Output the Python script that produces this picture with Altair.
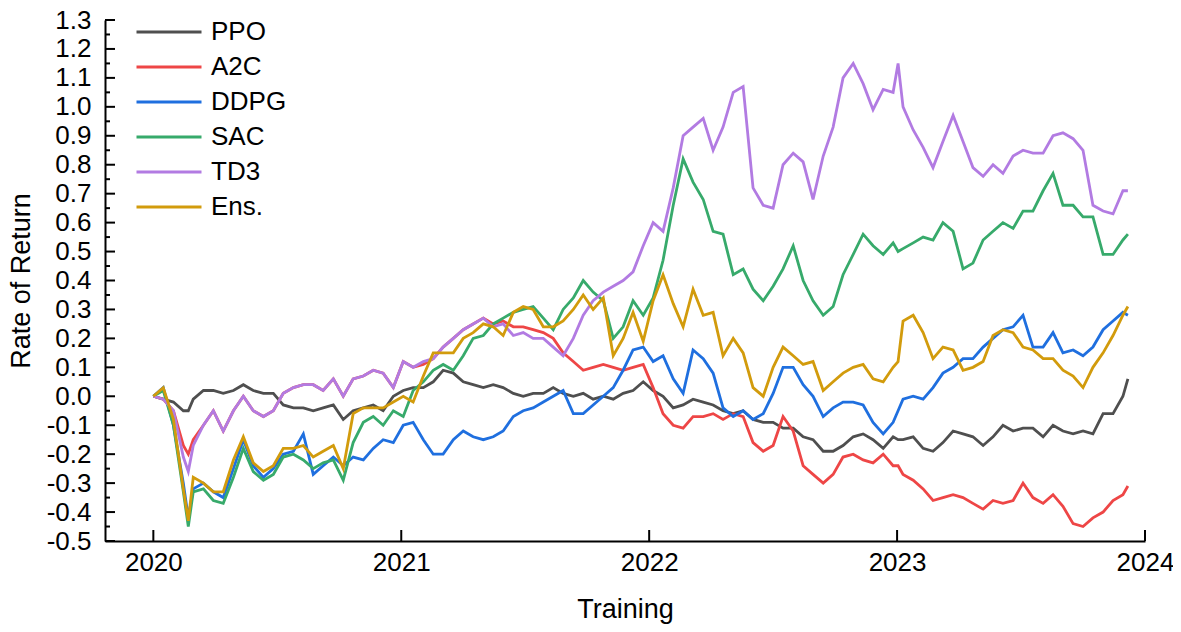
import altair as alt
import pandas as pd

# ---------------- data ----------------
years = [
    2020.000, 2020.040, 2020.081, 2020.121, 2020.141, 2020.161, 2020.202, 2020.242, 2020.282, 2020.323,
    2020.363, 2020.403, 2020.444, 2020.484, 2020.524, 2020.565, 2020.605, 2020.645, 2020.685, 2020.726,
    2020.766, 2020.806, 2020.847, 2020.887, 2020.927, 2020.968,
    2021.008, 2021.048, 2021.089, 2021.129, 2021.169, 2021.210, 2021.250, 2021.290, 2021.331, 2021.371,
    2021.411, 2021.452, 2021.492, 2021.532, 2021.573, 2021.613, 2021.653, 2021.694, 2021.734, 2021.774,
    2021.815, 2021.855, 2021.895, 2021.935, 2021.976,
    2022.016, 2022.056, 2022.097, 2022.137, 2022.177, 2022.218, 2022.258, 2022.298, 2022.339, 2022.379,
    2022.419, 2022.460, 2022.500, 2022.540, 2022.581, 2022.621, 2022.661, 2022.702, 2022.742, 2022.782,
    2022.823, 2022.863, 2022.903, 2022.944, 2022.984, 2023.004,
    2023.024, 2023.065, 2023.105, 2023.145, 2023.185, 2023.226, 2023.266, 2023.306, 2023.347, 2023.387,
    2023.427, 2023.468, 2023.508, 2023.548, 2023.589, 2023.629, 2023.669, 2023.710, 2023.750, 2023.790,
    2023.831, 2023.871, 2023.911, 2023.931,
]

ppo = [
    0.0, -0.01, -0.02, -0.05, -0.05, -0.01, 0.02, 0.02, 0.01, 0.02, 0.04, 0.02, 0.01, 0.01, -0.03, -0.04,
    -0.04, -0.05, -0.04, -0.03, -0.08, -0.05, -0.04, -0.03, -0.05, 0.0,
    0.02, 0.03, 0.03, 0.05, 0.09, 0.08, 0.05, 0.04, 0.03, 0.04, 0.03, 0.01, 0.0, 0.01, 0.01, 0.03, 0.01,
    0.0, 0.01, -0.01, 0.0, -0.01, 0.01, 0.02, 0.05,
    0.02, 0.0, -0.04, -0.03, -0.01, -0.02, -0.03, -0.05, -0.06, -0.05, -0.08, -0.09, -0.09, -0.11, -0.11,
    -0.14, -0.15, -0.19, -0.19, -0.17, -0.14, -0.13, -0.15, -0.18, -0.14, -0.15,
    -0.15, -0.14, -0.18, -0.19, -0.16, -0.12, -0.13, -0.14, -0.17, -0.14, -0.1, -0.12, -0.11, -0.11,
    -0.14, -0.1, -0.12, -0.13, -0.12, -0.13, -0.06, -0.06, 0.0, 0.06,
]

a2c = [
    0.0, -0.01, -0.05, -0.17, -0.2, -0.15, -0.1, -0.05, -0.12, -0.05, 0.0, -0.05, -0.07, -0.05, 0.01, 0.03,
    0.04, 0.04, 0.02, 0.06, 0.0, 0.06, 0.07, 0.09, 0.08, 0.03,
    0.12, 0.1, 0.11, 0.13, 0.17, 0.2, 0.23, 0.25, 0.27, 0.25, 0.26, 0.24, 0.24, 0.23, 0.22, 0.2, 0.15,
    0.12, 0.09, 0.1, 0.11, 0.1, 0.09, 0.1, 0.11,
    0.03, -0.06, -0.1, -0.11, -0.07, -0.07, -0.06, -0.08, -0.06, -0.07, -0.16, -0.19, -0.17, -0.07, -0.12,
    -0.24, -0.27, -0.3, -0.27, -0.21, -0.2, -0.22, -0.23, -0.2, -0.24, -0.24,
    -0.27, -0.29, -0.32, -0.36, -0.35, -0.34, -0.35, -0.37, -0.39, -0.36, -0.37, -0.36, -0.3, -0.35,
    -0.37, -0.34, -0.38, -0.44, -0.45, -0.42, -0.4, -0.36, -0.34, -0.31,
]

ddpg = [
    0.0, 0.03, -0.1, -0.3, -0.42, -0.32, -0.3, -0.33, -0.35, -0.25, -0.15, -0.24, -0.28, -0.25, -0.2,
    -0.19, -0.13, -0.27, -0.24, -0.21, -0.24, -0.21, -0.22, -0.18, -0.15, -0.16,
    -0.1, -0.09, -0.15, -0.2, -0.2, -0.15, -0.12, -0.14, -0.15, -0.14, -0.12, -0.07, -0.05, -0.04, -0.02,
    0.0, 0.02, -0.06, -0.06, -0.03, 0.0, 0.03, 0.09, 0.16, 0.17,
    0.12, 0.14, 0.06, 0.01, 0.16, 0.13, 0.08, -0.04, -0.07, -0.05, -0.08, -0.06, 0.01, 0.1, 0.1, 0.04,
    0.0, -0.07, -0.04, -0.02, -0.02, -0.03, -0.09, -0.13, -0.09, -0.05,
    -0.01, 0.0, -0.01, 0.03, 0.08, 0.1, 0.13, 0.13, 0.17, 0.2, 0.23, 0.24, 0.28, 0.17, 0.17, 0.22, 0.15,
    0.16, 0.14, 0.17, 0.23, 0.26, 0.29, 0.28,
]

sac = [
    0.0, 0.02, -0.1, -0.33, -0.45, -0.33, -0.32, -0.36, -0.37, -0.28, -0.18, -0.26, -0.29, -0.27, -0.21,
    -0.2, -0.22, -0.25, -0.23, -0.22, -0.29, -0.16, -0.09, -0.07, -0.1, -0.05,
    -0.07, 0.02, 0.05, 0.09, 0.11, 0.09, 0.14, 0.2, 0.21, 0.25, 0.27, 0.29, 0.3, 0.31, 0.27, 0.23, 0.3,
    0.34, 0.4, 0.36, 0.33, 0.2, 0.24, 0.33, 0.28,
    0.34, 0.47, 0.66, 0.82, 0.74, 0.68, 0.57, 0.56, 0.42, 0.44, 0.37, 0.33, 0.38, 0.44, 0.52, 0.4, 0.33,
    0.28, 0.31, 0.42, 0.49, 0.56, 0.52, 0.49, 0.53, 0.5,
    0.51, 0.53, 0.55, 0.54, 0.6, 0.57, 0.44, 0.46, 0.54, 0.57, 0.6, 0.58, 0.64, 0.64, 0.71, 0.77, 0.66,
    0.66, 0.62, 0.62, 0.49, 0.49, 0.54, 0.56,
]

td3 = [
    0.0, -0.01, -0.05, -0.21, -0.26, -0.17, -0.1, -0.05, -0.12, -0.05, 0.0, -0.05, -0.07, -0.05, 0.01,
    0.03, 0.04, 0.04, 0.02, 0.06, 0.0, 0.06, 0.07, 0.09, 0.08, 0.03,
    0.12, 0.1, 0.12, 0.13, 0.17, 0.2, 0.23, 0.25, 0.27, 0.24, 0.25, 0.21, 0.22, 0.2, 0.2, 0.17, 0.14, 0.2,
    0.28, 0.33, 0.36, 0.38, 0.4, 0.43, 0.52,
    0.6, 0.57, 0.72, 0.9, 0.93, 0.96, 0.85, 0.93, 1.05, 1.07, 0.72, 0.66, 0.65, 0.8, 0.84, 0.81, 0.68,
    0.83, 0.93, 1.1, 1.15, 1.08, 0.99, 1.06, 1.05, 1.15,
    1.0, 0.92, 0.86, 0.79, 0.88, 0.97, 0.88, 0.79, 0.76, 0.8, 0.77, 0.83, 0.85, 0.84, 0.84, 0.9, 0.91,
    0.89, 0.85, 0.66, 0.64, 0.63, 0.71, 0.71,
]

ens = [
    0.0, 0.03, -0.08, -0.32, -0.43, -0.28, -0.3, -0.33, -0.33, -0.22, -0.14, -0.23, -0.26, -0.24, -0.18,
    -0.18, -0.17, -0.21, -0.19, -0.17, -0.25, -0.06, -0.04, -0.04, -0.04, -0.02,
    0.0, -0.02, 0.07, 0.15, 0.15, 0.15, 0.2, 0.22, 0.25, 0.24, 0.21, 0.29, 0.31, 0.3, 0.24, 0.24, 0.26,
    0.3, 0.35, 0.3, 0.34, 0.14, 0.2, 0.29, 0.19,
    0.33, 0.42, 0.32, 0.24, 0.37, 0.28, 0.29, 0.14, 0.2, 0.15, 0.03, 0.0, 0.1, 0.17, 0.14, 0.11, 0.12,
    0.02, 0.05, 0.08, 0.1, 0.11, 0.06, 0.05, 0.1, 0.12,
    0.26, 0.28, 0.22, 0.13, 0.17, 0.16, 0.09, 0.1, 0.12, 0.21, 0.23, 0.22, 0.17, 0.16, 0.13, 0.13, 0.09,
    0.07, 0.03, 0.1, 0.15, 0.21, 0.28, 0.31,
]

names = ["PPO", "A2C", "DDPG", "SAC", "TD3", "Ens."]
colors = ["#4f4f4f", "#ee4646", "#1f6fdf", "#37aa6b", "#b27be2", "#d29b0c"]
series = [ppo, a2c, ddpg, sac, td3, ens]

x_ticks = [2020, 2021, 2022, 2023, 2024]
y_major = [-0.5, -0.4, -0.3, -0.2, -0.1, 0.0, 0.1, 0.2, 0.3, 0.4, 0.5, 0.6, 0.7, 0.8, 0.9,
           1.0, 1.1, 1.2, 1.3]
y_minor = [-0.45, -0.35, -0.25, -0.15, -0.05, 0.05, 0.15, 0.25, 0.35, 0.45, 0.55, 0.65, 0.75,
           0.85, 0.95, 1.05, 1.15, 1.25]

for n, s in zip(names, series):
    if len(s) != len(years):
        raise ValueError(f"{n}: {len(s)} values for {len(years)} dates")

rows = []
for n, s in zip(names, series):
    for t, v in zip(years, s):
        rows.append({"t": t, "ret": v, "model": n})
df = pd.DataFrame(rows)

# ---------------- chart ----------------
FONT = "Liberation Sans"
W, H = 1040, 521

xscale = alt.Scale(domain=[2019.805, 2024.0], nice=False, zero=False)
yscale = alt.Scale(domain=[-0.5, 1.3], nice=False, zero=False)
cscale = alt.Scale(domain=names, range=colors)

xaxis = alt.Axis(values=x_ticks, format="d", title="Training", grid=False, ticks=False,
                 labelFont=FONT, labelFontSize=26, labelColor="black", labelPadding=8,
                 labelFlush=False, labelOverlap=False,
                 titleFont=FONT, titleFontSize=27, titleFontWeight="normal", titleColor="black",
                 titlePadding=21, domainColor="black", domainWidth=2)
yaxis = alt.Axis(values=y_major, title="Rate of Return", grid=False, ticks=False,
                 labelExpr="datum.value < -0.001 ? '-' + format(-datum.value, '.1f') : format(datum.value, '.1f')",
                 labelFont=FONT, labelFontSize=26, labelColor="black", labelPadding=14,
                 labelFlush=False, labelOverlap=False,
                 titleFont=FONT, titleFontSize=27, titleFontWeight="normal", titleColor="black",
                 titlePadding=11, domainColor="black", domainWidth=2)

legend = alt.Legend(title=None, orient="none", legendX=30, legendY=-3, symbolType="stroke",
                    symbolSize=4225, symbolStrokeWidth=3, clipHeight=30, rowPadding=5,
                    labelFont=FONT, labelFontSize=26, labelColor="black", labelOffset=8,
                    padding=0, symbolOffset=0)

layers = []
for n in names:
    layers.append(
        alt.Chart(df)
        .transform_filter(alt.datum.model == n)
        .mark_line(strokeWidth=2.8)
        .encode(
            x=alt.X("t:Q", scale=xscale, axis=xaxis),
            y=alt.Y("ret:Q", scale=yscale, axis=yaxis),
            color=alt.Color("model:N", scale=cscale, legend=legend),
        )
    )

ymaj_df = pd.DataFrame({"v": y_major})
ymin_df = pd.DataFrame({"v": y_minor})
xt_df = pd.DataFrame({"v": x_ticks})

ytick_major = alt.Chart(ymaj_df).mark_rule(color="black", strokeWidth=2).encode(
    y=alt.Y("v:Q", scale=yscale, axis=yaxis), x=alt.value(0), x2=alt.value(10))
ytick_minor = alt.Chart(ymin_df).mark_rule(color="black", strokeWidth=2).encode(
    y=alt.Y("v:Q", scale=yscale, axis=yaxis), x=alt.value(0), x2=alt.value(5))
xtick = alt.Chart(xt_df).mark_rule(color="black", strokeWidth=2).encode(
    x=alt.X("v:Q", scale=xscale, axis=xaxis), y=alt.value(H), y2=alt.value(H - 11))

chart = (
    alt.layer(*layers, ytick_major, ytick_minor, xtick)
    .properties(
        width=W, height=H,
        autosize=alt.AutoSizeParams(type="none"),
        padding={"left": 97, "top": 12, "right": 28, "bottom": 92},
        background="white",
    )
    .configure_view(stroke=None)
)

chart.save("out.html", embed_options={"renderer": "svg", "actions": False})
